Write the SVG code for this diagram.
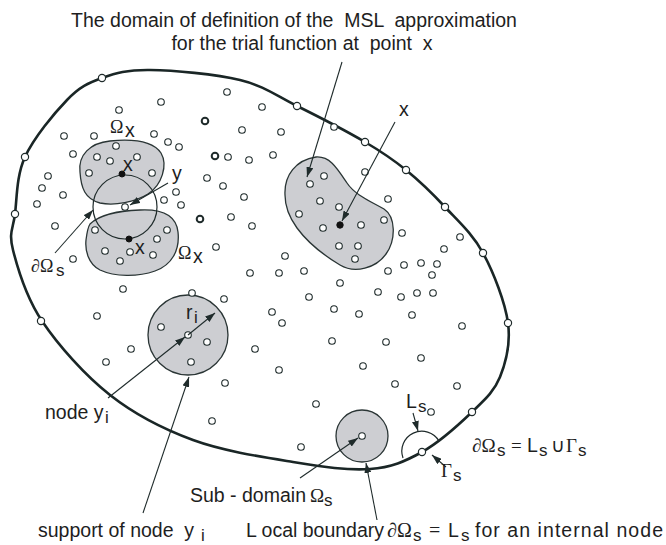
<svg xmlns="http://www.w3.org/2000/svg" width="666" height="545" viewBox="0 0 666 545">
<style>
.t{font-family:"Liberation Sans",Arial,sans-serif;font-size:19.5px;fill:#1e1e1e;white-space:pre}
.m{font-family:"Liberation Serif","Times New Roman",serif;fill:#1e1e1e}
.sub{font-family:"Liberation Sans",Arial,sans-serif;font-size:17px;fill:#1e1e1e}
.n{fill:#fff;stroke:#1f2b2b;stroke-width:1.1}
.nd{fill:#fff;stroke:#1f2b2b;stroke-width:2}
.bn{fill:#fff;stroke:#1f2b2b;stroke-width:1.2}
.blob{fill:#cdced2;stroke:#2a3535;stroke-width:1.3}
.ln{fill:none;stroke:#1f2b2b;stroke-width:1.2}
.ar{fill:none;stroke:#1f2b2b;stroke-width:1.1;marker-end:url(#ah)}
.blk{fill:#111;stroke:#111;stroke-width:1}
</style>
<defs>
<marker id="ah" viewBox="0 0 10 7" refX="10" refY="3.5" markerWidth="10" markerHeight="7" orient="auto" markerUnits="userSpaceOnUse">
<path d="M0,0 L10,3.5 L0,7 z" fill="#1f2b2b"/>
</marker>
</defs>

<g id="domain">
<path d="M 15,214 C 17,198.5 16.3,176 25,157 C 33.7,138 54.2,113.2 67,100 C 79.8,86.8 88.2,83 102,78 C 115.8,73 127,69.7 150,70 C 173,70.3 215.5,74 240,80 C 264.5,86 276.2,95.7 297,106 C 317.8,116.3 346.8,131.3 365,142 C 383.2,152.7 392.7,159.2 406,170 C 419.3,180.8 432.2,193.2 445,207 C 457.8,220.8 472.5,233.7 483,253 C 493.5,272.3 505.2,302.3 508,323 C 510.8,343.7 506,362.2 500,377 C 494,391.8 485,399.5 472,412 C 459,424.5 439,442.5 422,452 C 405,461.5 391.5,467.3 370,469 C 348.5,470.7 322.5,466.8 293,462 C 263.5,457.2 223.5,451.2 193,440 C 162.5,428.8 135.2,414.8 110,395 C 84.8,375.2 58.2,345.2 42,321 C 25.8,296.8 17.5,267.8 13,250 C 8.5,232.2 13,229.5 15,214 Z" fill="none" stroke="#1a2626" stroke-width="2.6"/>
</g>

<g id="omega-x-upper">
<path class="blob" d="M 80,172 C 78,155 90,143 110,141 C 130,139 152,140 161,153 C 168,165 162,185 148,194 C 135,202 115,206 100,203 C 85,199 81,188 80,172 Z"/>
</g>
<g id="omega-x-lower">
<path class="blob" d="M 90,224 C 100,214 118,211 140,210 C 160,209 176,214 178,232 C 180,250 172,265 155,271 C 138,277 115,277 100,270 C 88,264 85,250 86,240 C 87,232 88,227 90,224 Z"/>
</g>
<g id="omega-x-middle">
<path class="blob" d="M 285,195 C 284,175 296,160 316,157 C 330,156 337,168 347,183 C 355,195 370,201 384,209 C 396,217 396,240 386,254 C 376,268 355,274 340,265 C 325,256 308,243 297,228 C 289,217 285,207 285,195 Z"/>
</g>
<g id="support-yi">
<circle class="blob" cx="188" cy="335" r="40"/>
</g>
<g id="sub-domain">
<circle class="blob" cx="362" cy="436" r="26"/>
</g>
<g id="ds-circle">
<circle class="ln" cx="125" cy="207" r="32"/>
</g>
<g id="ls-arc">
<path class="ln" d="M 403,458 A 20 20 0 0 1 439,441"/>
</g>

<g id="nodes">
<circle class="n" cx="227" cy="92" r="3.3"/><circle class="n" cx="161" cy="102" r="3.3"/><circle class="n" cx="119" cy="110" r="3.3"/><circle class="nd" cx="205" cy="121" r="3.3"/>
<circle class="n" cx="64" cy="136" r="3.3"/><circle class="n" cx="94" cy="136" r="3.3"/><circle class="n" cx="154" cy="134" r="3.3"/><circle class="n" cx="168" cy="142" r="3.3"/>
<circle class="n" cx="179" cy="147" r="3.3"/><circle class="n" cx="73" cy="154" r="3.3"/><circle class="n" cx="116" cy="146" r="3.3"/><circle class="n" cx="97" cy="157" r="3.3"/>
<circle class="n" cx="110" cy="161" r="3.3"/><circle class="n" cx="137" cy="157" r="3.3"/><circle class="n" cx="89" cy="173" r="3.3"/><circle class="n" cx="152" cy="173" r="3.3"/>
<circle class="nd" cx="215" cy="156" r="3.3"/><circle class="n" cx="228" cy="157" r="3.3"/><circle class="n" cx="48" cy="176" r="3.3"/><circle class="n" cx="42" cy="188" r="3.3"/>
<circle class="n" cx="63" cy="195" r="3.3"/><circle class="n" cx="37" cy="204" r="3.3"/><circle class="n" cx="207" cy="178" r="3.3"/><circle class="n" cx="223" cy="186" r="3.3"/>
<circle class="n" cx="176" cy="192" r="3.3"/><circle class="n" cx="164" cy="200" r="3.3"/><circle class="n" cx="181" cy="205" r="3.3"/><circle class="n" cx="125" cy="207" r="3.3"/>
<circle class="nd" cx="200" cy="219" r="3.3"/><circle class="n" cx="231" cy="217" r="3.3"/><circle class="n" cx="55" cy="226" r="3.3"/><circle class="n" cx="95" cy="230" r="3.3"/>
<circle class="n" cx="167" cy="230" r="3.3"/><circle class="n" cx="157" cy="239" r="3.3"/><circle class="n" cx="105" cy="251" r="3.3"/><circle class="n" cx="130" cy="252" r="3.3"/>
<circle class="n" cx="120" cy="261" r="3.3"/><circle class="n" cx="153" cy="255" r="3.3"/><circle class="n" cx="73" cy="259" r="3.3"/><circle class="n" cx="216" cy="247" r="3.3"/>
<circle class="n" cx="123" cy="289" r="3.3"/>
<circle class="n" cx="262" cy="107" r="3.3"/><circle class="n" cx="242" cy="130" r="3.3"/><circle class="n" cx="281" cy="132" r="3.3"/><circle class="n" cx="334" cy="127" r="3.3"/>
<circle class="n" cx="249" cy="160" r="3.3"/><circle class="n" cx="273" cy="155" r="3.3"/><circle class="n" cx="365" cy="172" r="3.3"/><circle class="n" cx="244" cy="197" r="3.3"/>
<circle class="n" cx="252" cy="226" r="3.3"/><circle class="n" cx="285" cy="256" r="3.3"/><circle class="n" cx="250" cy="273" r="3.3"/><circle class="n" cx="279" cy="273" r="3.3"/>
<circle class="n" cx="304" cy="271" r="3.3"/><circle class="n" cx="340" cy="283" r="3.3"/><circle class="n" cx="388" cy="199" r="3.3"/><circle class="n" cx="402" cy="233" r="3.3"/>
<circle class="n" cx="460" cy="237" r="3.3"/><circle class="n" cx="444" cy="249" r="3.3"/><circle class="n" cx="388" cy="271" r="3.3"/><circle class="n" cx="404" cy="265" r="3.3"/>
<circle class="n" cx="421" cy="263" r="3.3"/><circle class="n" cx="437" cy="264" r="3.3"/><circle class="n" cx="432" cy="275" r="3.3"/>
<circle class="n" cx="324" cy="176" r="3.3"/><circle class="n" cx="310" cy="184" r="3.3"/><circle class="n" cx="320" cy="201" r="3.3"/><circle class="n" cx="339" cy="207" r="3.3"/>
<circle class="n" cx="299" cy="214" r="3.3"/><circle class="n" cx="323" cy="228" r="3.3"/><circle class="n" cx="361" cy="225" r="3.3"/><circle class="n" cx="339" cy="246" r="3.3"/>
<circle class="n" cx="358" cy="246" r="3.3"/><circle class="n" cx="355" cy="259" r="3.3"/><circle class="n" cx="384" cy="220" r="3.3"/>
<circle class="n" cx="192" cy="293" r="3.3"/><circle class="n" cx="224" cy="299" r="3.3"/><circle class="n" cx="309" cy="297" r="3.3"/><circle class="n" cx="272" cy="312" r="3.3"/>
<circle class="n" cx="282" cy="323" r="3.3"/><circle class="n" cx="255" cy="349" r="3.3"/><circle class="n" cx="334" cy="309" r="3.3"/><circle class="n" cx="359" cy="314" r="3.3"/>
<circle class="n" cx="378" cy="292" r="3.3"/><circle class="n" cx="401" cy="297" r="3.3"/><circle class="n" cx="417" cy="293" r="3.3"/><circle class="n" cx="433" cy="293" r="3.3"/>
<circle class="n" cx="412" cy="315" r="3.3"/><circle class="n" cx="462" cy="326" r="3.3"/><circle class="n" cx="332" cy="341" r="3.3"/><circle class="n" cx="386" cy="342" r="3.3"/>
<circle class="n" cx="421" cy="358" r="3.3"/><circle class="n" cx="97" cy="316" r="3.3"/><circle class="n" cx="131" cy="349" r="3.3"/><circle class="n" cx="106" cy="362" r="3.3"/>
<circle class="n" cx="225" cy="383" r="3.3"/><circle class="n" cx="212" cy="421" r="3.3"/><circle class="n" cx="279" cy="370" r="3.3"/><circle class="n" cx="363" cy="366" r="3.3"/>
<circle class="n" cx="395" cy="384" r="3.3"/><circle class="n" cx="457" cy="386" r="3.3"/><circle class="n" cx="316" cy="404" r="3.3"/><circle class="n" cx="431" cy="412" r="3.3"/>
<circle class="n" cx="301" cy="447" r="3.3"/>
<circle class="n" cx="161" cy="327" r="3.3"/><circle class="n" cx="188" cy="335" r="3.3"/><circle class="n" cx="207" cy="342" r="3.3"/><circle class="n" cx="191" cy="362" r="3.3"/>
<circle class="n" cx="362" cy="436" r="3.3"/>
<circle class="bn" cx="102" cy="78" r="3.6"/><circle class="bn" cx="25" cy="157" r="3.6"/><circle class="bn" cx="15" cy="214" r="3.6"/><circle class="bn" cx="41" cy="321" r="3.6"/>
<circle class="bn" cx="297" cy="106" r="3.6"/><circle class="bn" cx="365" cy="142" r="3.6"/><circle class="bn" cx="406" cy="170" r="3.6"/><circle class="bn" cx="445" cy="207" r="3.6"/>
<circle class="bn" cx="483" cy="253" r="3.6"/><circle class="bn" cx="508" cy="323" r="3.6"/><circle class="bn" cx="472" cy="412" r="3.6"/><circle class="bn" cx="422" cy="452" r="3.6"/>
<circle class="blk" cx="122" cy="174" r="3"/><circle class="blk" cx="129" cy="239" r="3"/><circle class="blk" cx="340" cy="225" r="3.2"/>
</g>

<g id="connectors">
<line class="ar" x1="342" y1="62" x2="307" y2="177"/>
<line class="ar" x1="395" y1="122" x2="342" y2="221"/>
<line class="ar" x1="168" y1="183" x2="130" y2="205"/>
<line class="ar" x1="55" y1="253" x2="93" y2="210"/>
<line class="ar" x1="108" y1="398" x2="185" y2="337"/>
<line class="ar" x1="188" y1="335" x2="215" y2="313"/>
<line class="ar" x1="143" y1="513" x2="189" y2="377"/>
<line class="ar" x1="300" y1="478" x2="358" y2="438"/>
<line class="ar" x1="377" y1="520" x2="366" y2="463"/>
<line class="ar" x1="413" y1="413" x2="418" y2="431"/>
<line class="ar" x1="446" y1="467" x2="432" y2="455"/>
</g>

<g id="labels">
<text class="t" x="294" y="27" text-anchor="middle">The domain of definition of the  MSL  approximation</text>
<text class="t" x="302" y="50" text-anchor="middle">for the trial function at  point  x</text>
<text class="t" x="399" y="116" font-size="20">x</text>
<text class="m" x="110" y="133" font-size="18">Ω</text><text class="t" x="125" y="137" font-size="18">x</text>
<text class="t" x="123" y="171" font-size="20">x</text>
<text class="t" x="172" y="180" font-size="20">y</text>
<text class="t" x="135" y="254" font-size="20">x</text>
<text class="m" x="178" y="259" font-size="18">Ω</text><text class="t" x="193" y="263" font-size="18">x</text>
<text class="m" x="31" y="272" font-size="18">∂Ω</text><text class="sub" x="56" y="276">s</text>
<text class="t" x="186" y="319" font-size="20">r</text><text class="sub" x="194" y="323">i</text>
<text class="t" x="45" y="419">node y</text><text class="sub" x="105" y="423">i</text>
<text class="t" x="190" y="502">Sub - domain</text><text class="m" x="310" y="502" font-size="19">Ω</text><text class="sub" x="324" y="506">s</text>
<text class="t" x="406" y="408">L</text><text class="sub" x="418" y="412">s</text>
<text class="m" x="472" y="452" font-size="19">∂Ω</text><text class="sub" x="497" y="456">s</text><text class="m" x="511" y="452" font-size="19">=</text><text class="t" x="527" y="452">L</text><text class="sub" x="539" y="456">s</text><text class="m" x="551" y="452" font-size="19">∪</text><text class="m" x="566" y="452" font-size="19">Γ</text><text class="sub" x="578" y="456">s</text>
<text class="m" x="441" y="477" font-size="19">Γ</text><text class="sub" x="453" y="481">s</text>
<text class="t" x="38" y="537">support of node  y</text><text class="sub" x="201" y="541">i</text>
<text class="t" x="246" y="537">L ocal boundary</text><text class="m" x="387" y="537" font-size="20">∂Ω</text><text class="sub" x="413" y="541">s</text><text class="m" x="429" y="537" font-size="20">=</text><text class="t" x="448" y="537">L</text><text class="sub" x="461" y="541">s</text><text class="t" x="475" y="537" textLength="188" lengthAdjust="spacing">for an internal node</text>
</g>
</svg>
